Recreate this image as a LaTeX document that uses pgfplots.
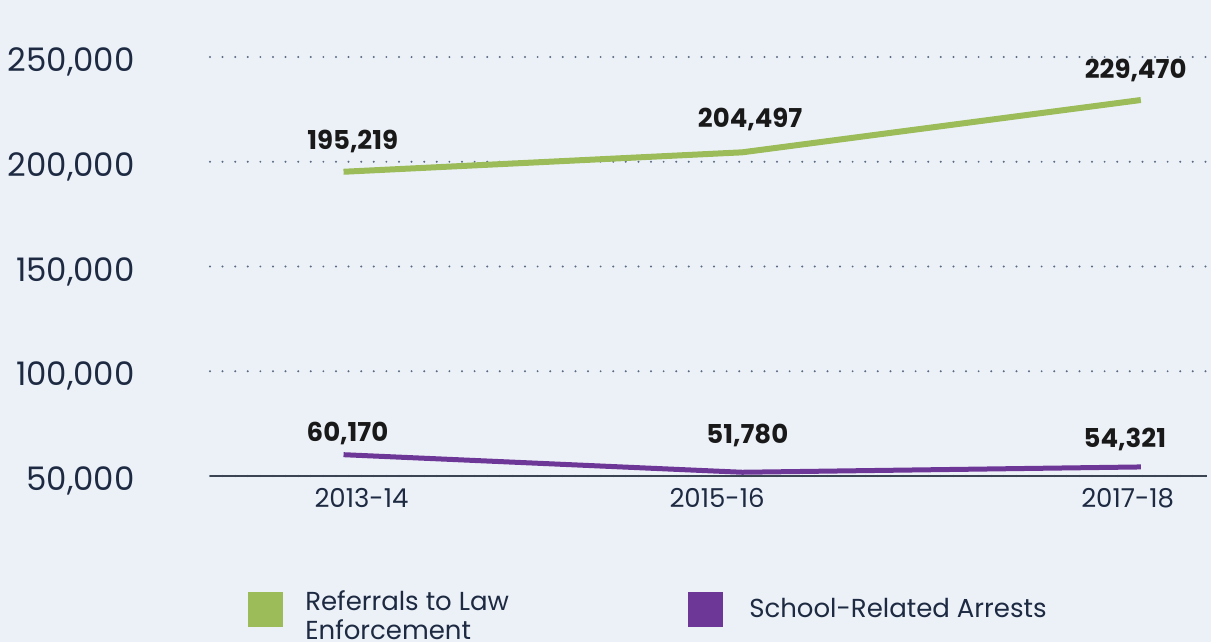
\documentclass[border=0pt]{standalone}
\usepackage{fontspec}
\setmainfont{Poppins}
\usepackage{pgfplots}
\pgfplotsset{compat=1.18}

\definecolor{bg}{HTML}{ECF1F8}
\definecolor{gridc}{HTML}{5A6A80}
\definecolor{axisc}{HTML}{3A4452}
\definecolor{txt}{HTML}{1D2A42}
\definecolor{greenl}{HTML}{9BBC59}
\definecolor{purplel}{HTML}{6D3797}

\begin{document}
\begin{tikzpicture}
\fill[bg] (-105pt,-83pt) rectangle (500.5pt,238pt);
\begin{axis}[
  at={(0,0)}, anchor=south west,
  scale only axis, width=498.5pt, height=209.5pt,
  xmin=-0.335, xmax=2.166, ymin=50000, ymax=250000,
  clip=false,
  axis x line*=bottom, axis y line*=left,
  x axis line style={-, draw=axisc, line width=0.75pt},
  y axis line style={draw=none},
  xtick={0.045,0.937,1.967},
  xticklabels={2013-14,2015-16,2017-18},
  ytick={50000,100000,150000,200000,250000},
  yticklabels={50{,}000,100{,}000,150{,}000,200{,}000,250{,}000},
  scaled y ticks=false,
  major tick length=0pt,
  ymajorgrids,
  grid style={draw=gridc, line width=1.1pt, line cap=round, dash pattern=on 0pt off 6.3pt},
  yticklabel style={anchor=east, inner sep=0pt, xshift=-37.5pt, yshift=-2.5pt,
    font=\fontsize{16.2}{18}\selectfont, text=txt},
  xticklabel style={anchor=north, inner sep=0pt, yshift=-6pt,
    font=\fontsize{13}{15}\selectfont, text=txt},
  legend columns=2,
  legend image code/.code={\fill[#1,draw=none] (0pt,-8.75pt) rectangle (17.5pt,8.75pt);},
  legend style={at={(0.038,-0.318)}, anchor=west, draw=none, fill=none,
    column sep=0pt, inner sep=0pt,
    nodes={inner sep=0pt, text=txt, font=\fontsize{13}{14.5}\selectfont},
    /tikz/column 1/.style={column sep=11pt},
    /tikz/column 3/.style={column sep=13pt}},
]
\addplot[greenl, line width=3pt] coordinates {(0,195219) (1,204497) (2,229470)};
\addlegendentry{\makebox[191.5pt][l]{\begin{tabular}{@{}l@{}}Referrals to Law\\Enforcement\end{tabular}}}
\addplot[purplel, line width=2.5pt] coordinates {(0,60170) (1,51780) (2,54321)};
\addlegendentry{School-Related Arrests}

\begin{scope}[every node/.style={anchor=base, inner sep=0pt, font=\bfseries\fontsize{13}{15}\selectfont, text=black!90}]
\node at (axis cs:0.023,205609) {195,219};
\node at (axis cs:1.020,216110) {204,497};
\node at (axis cs:1.987,239976) {229,470};
\node at (axis cs:0.010,66229) {60,170};
\node at (axis cs:1.013,65274) {51,780};
\node at (axis cs:1.960,63365) {54,321};
\end{scope}
\end{axis}
\pgfresetboundingbox
\path[use as bounding box] (-105pt,-83pt) rectangle (500.5pt,238pt);
\end{tikzpicture}
\end{document}
